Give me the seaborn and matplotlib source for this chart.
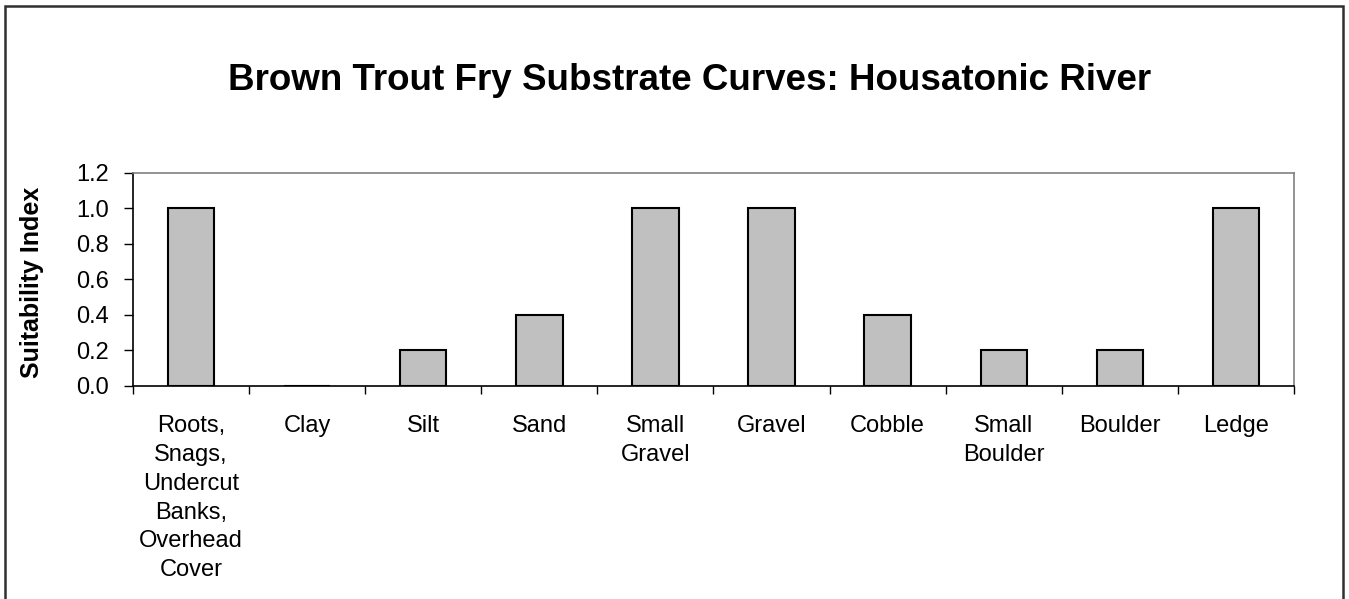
import matplotlib
matplotlib.use("Agg")
import matplotlib.pyplot as plt
from matplotlib.patches import Rectangle
from matplotlib.ticker import FixedLocator
import seaborn as sns
import pandas as pd

# Data
substrates = ["Roots,\nSnags,\nUndercut\nBanks,\nOverhead\nCover", "Clay", "Silt", "Sand",
              "Small\nGravel", "Gravel", "Cobble", "Small\nBoulder", "Boulder", "Ledge"]
suitability = [1.0, 0.0, 0.2, 0.4, 1.0, 1.0, 0.4, 0.2, 0.2, 1.0]
y_ticks = [0.0, 0.2, 0.4, 0.6, 0.8, 1.0, 1.2]

df = pd.DataFrame({"substrate": substrates, "si": suitability})

sns.set_style("white")
plt.rcParams["font.family"] = ["Liberation Sans", "DejaVu Sans"]
plt.rcParams["text.color"] = "black"
plt.rcParams["xtick.color"] = "black"
plt.rcParams["ytick.color"] = "black"

fig = plt.figure(figsize=(13.49, 5.99), dpi=100)
ax = fig.add_axes([0.0986, 0.3556, 0.8606, 0.3556])

sns.barplot(data=df, x="substrate", y="si", color="#c0c0c0", saturation=1,
            edgecolor="black", linewidth=1.5, width=0.4, ax=ax)

ax.set_xlim(-0.5, len(substrates) - 0.5)
ax.set_ylim(0, 1.2)
ax.set_yticks(y_ticks)
ax.set_yticklabels([f"{v:.1f}" for v in y_ticks], fontsize=17)
ax.tick_params(axis="y", direction="out", length=6.5, width=1, pad=11, left=True)

# category labels centered, ticks at category boundaries
ax.set_xticks(range(len(substrates)))
ax.set_xticklabels(substrates, fontsize=17, linespacing=1.4, va="top")
ax.tick_params(axis="x", which="major", length=0, pad=21)
ax.xaxis.set_minor_locator(FixedLocator([i - 0.5 for i in range(len(substrates) + 1)]))
ax.tick_params(axis="x", which="minor", direction="out", length=6, width=1, bottom=True)

ax.set_xlabel("")
ax.set_ylabel("")

for side in ["left", "bottom"]:
    ax.spines[side].set_color("black")
    ax.spines[side].set_linewidth(1.2)
for side in ["top", "right"]:
    ax.spines[side].set_visible(True)
    ax.spines[side].set_color("#808080")
    ax.spines[side].set_linewidth(1.2)

fig.text(0.511, 0.866, "Brown Trout Fry Substrate Curves: Housatonic River",
         ha="center", va="center", fontsize=26.5, fontweight="bold")
fig.text(0.024, 0.529, "Suitability Index", ha="center", va="center",
         rotation=90, fontsize=18, fontweight="bold")

# outer chart border (bottom cut off)
fig.patches.append(Rectangle((5 / 1349, -0.05), 1338 / 1349, 1.05 - 6 / 599,
                             transform=fig.transFigure, fill=False,
                             edgecolor="#303030", linewidth=1.8))

fig.savefig("out.png", dpi=100)
